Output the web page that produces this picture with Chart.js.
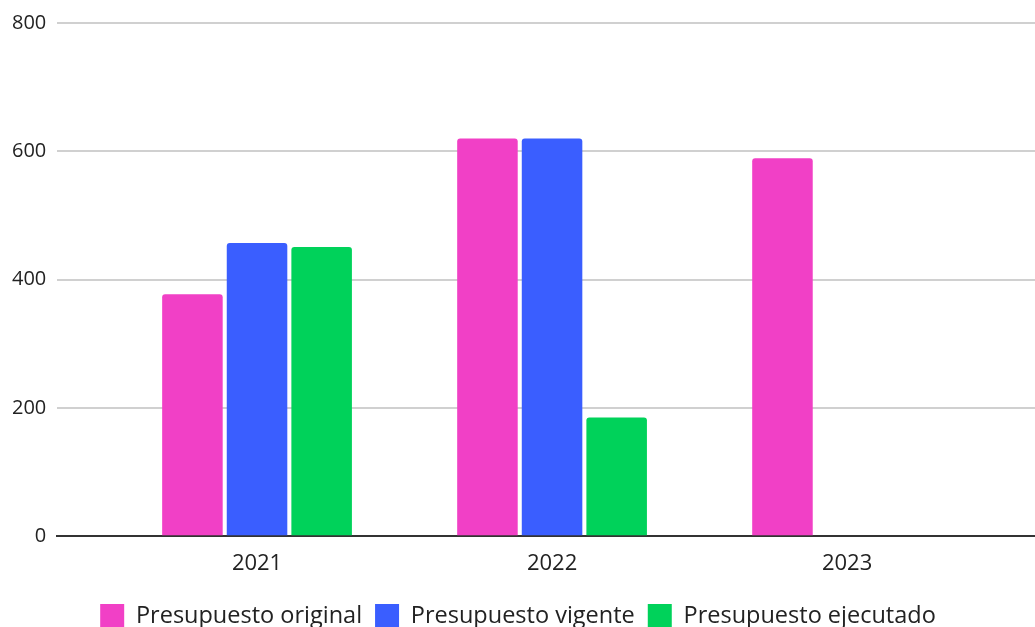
<!DOCTYPE html>
<html>
<head>
<meta charset="utf-8">
<script src="https://cdn.jsdelivr.net/npm/chart.js@4.4.0/dist/chart.umd.min.js"></script>
<style>
  html, body { margin: 0; padding: 0; background: #fff; }
</style>
</head>
<body>
<canvas id="myChart" width="1035" height="627"></canvas>
<script>
var years = ['2021', '2022', '2023'];
var original = [377, 620, 589];
var vigente = [457, 620, null];
var ejecutado = [451, 185, null];
var yTicks = [0, 200, 400, 600, 800];

function points(values) {
    return values.map(function (v, i) { return { x: i, y: v }; });
}

function bars(label, values, color) {
    return {
        label: label,
        data: points(values),
        backgroundColor: color,
        borderRadius: 3,
        categoryPercentage: 0.657,
        barPercentage: 0.937
    };
}

Chart.defaults.font.family = '"Open Sans", "Noto Sans", sans-serif';
Chart.defaults.color = '#222';

var testChart = new Chart('myChart', {
    type: 'bar',
    data: {
        datasets: [
            bars('Presupuesto original', original, '#f140c6'),
            bars('Presupuesto vigente', vigente, '#3a5eff'),
            bars('Presupuesto ejecutado', ejecutado, '#00d25a')
        ]
    },
    options: {
        responsive: false,
        animation: false,
        layout: {
            padding: { top: 19, left: 1, right: 0, bottom: -11 }
        },
        plugins: {
            tooltip: { enabled: false },
            legend: {
                position: 'bottom',
                labels: {
                    font: { size: 23.5 },
                    color: '#222',
                    boxWidth: 24,
                    boxHeight: 24,
                    padding: 13
                }
            }
        },
        scales: {
            x: {
                type: 'linear',
                offset: false,
                min: -0.677,
                max: 2.637,
                grid: { display: false, drawTicks: false, offset: false },
                border: { display: true, color: '#333', width: 2 },
                afterBuildTicks: function (axis) {
                    axis.ticks = years.map(function (y, i) { return { value: i }; });
                },
                ticks: {
                    padding: 23,
                    font: { size: 22, lineHeight: 0.4 },
                    color: '#222',
                    callback: function (value) { return years[value]; }
                }
            },
            y: {
                min: 0,
                max: 800,
                afterBuildTicks: function (axis) {
                    axis.ticks = yTicks.map(function (v) { return { value: v }; });
                },
                grid: {
                    color: function (ctx) { return ctx.tick && ctx.tick.value === 0 ? '#333' : '#d0d0d0'; },
                    lineWidth: 2,
                    drawTicks: false
                },
                border: { display: false },
                ticks: {
                    padding: 11,
                    font: { size: 20 },
                    color: '#222'
                }
            }
        }
    }
});
</script>
</body>
</html>
